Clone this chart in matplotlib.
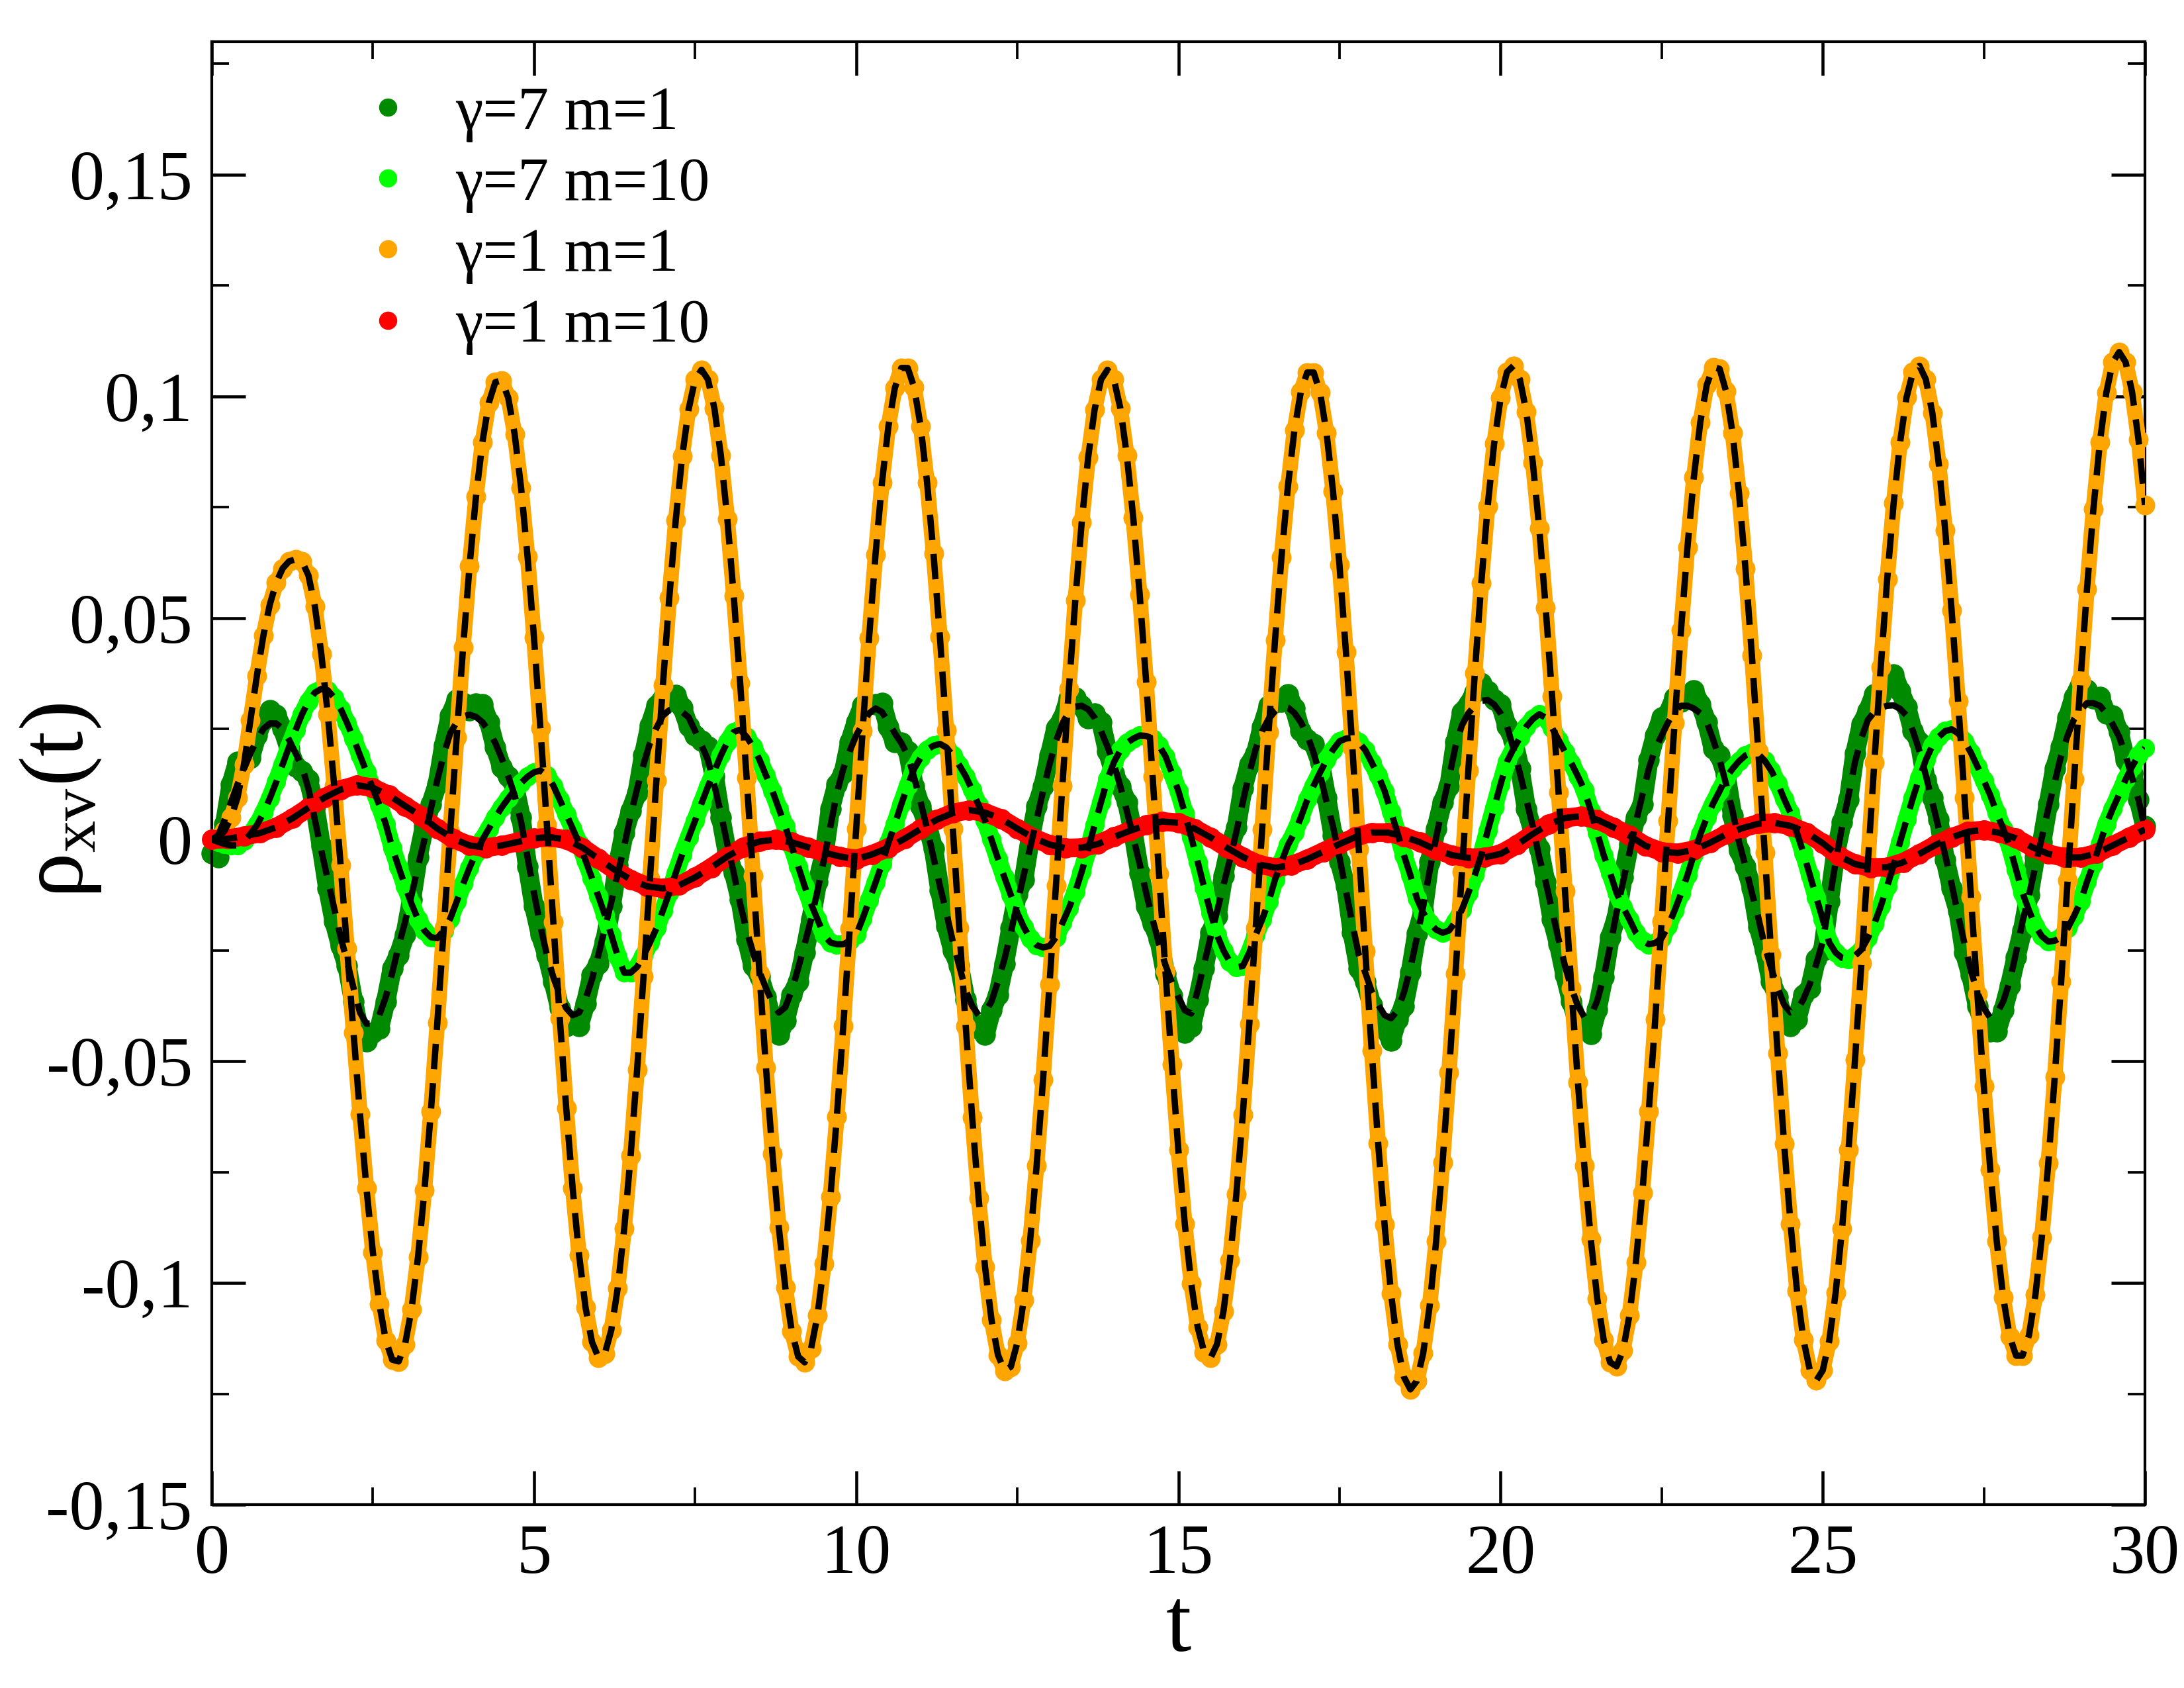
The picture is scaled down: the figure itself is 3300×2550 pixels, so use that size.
import numpy as np
import matplotlib
matplotlib.use('Agg')
import matplotlib.pyplot as plt
from matplotlib.ticker import MultipleLocator, FuncFormatter

plt.rcParams['font.family'] = ['Liberation Serif', 'DejaVu Serif']
plt.rcParams['mathtext.fontset'] = 'custom'
plt.rcParams['mathtext.rm'] = 'Liberation Serif'
plt.rcParams['mathtext.it'] = 'Liberation Serif:italic'

# sampling times (t) of the read-off curves
t_fine = np.round(np.arange(301) * 0.1, 1)
t_red = np.arange(121) * 0.25

# gamma=7 m=1 : simulation points
dg_dots = [
    -0.0030, -0.0040, 0.0035, 0.0125, 0.0175, 0.0180, 0.0185, 0.0235, 0.0270, 0.0292,
    0.0282, 0.0250, 0.0205, 0.0165, 0.0155, 0.0135, 0.0075, -0.0015, -0.0110, -0.0185,
    -0.0240, -0.0285, -0.0365, -0.0440, -0.0455, -0.0435, -0.0426, -0.0365, -0.0290, -0.0260,
    -0.0215, -0.0135, -0.0040, 0.0030, 0.0080, 0.0125, 0.0212, 0.0280, 0.0315, 0.0308,
    0.0292, 0.0307, 0.0305, 0.0265, 0.0208, 0.0163, 0.0143, 0.0120, 0.0050, -0.0060,
    -0.0150, -0.0215, -0.0260, -0.0320, -0.0380, -0.0420, -0.0416, -0.0420, -0.0370, -0.0305,
    -0.0280, -0.0230, -0.0150, -0.0057, 0.0015, 0.0065, 0.0105, 0.0190, 0.0258, 0.0302,
    0.0320, 0.0312, 0.0326, 0.0298, 0.0256, 0.0235, 0.0223, 0.0210, 0.0142, 0.0050,
    -0.0030, -0.0075, -0.0135, -0.0225, -0.0285, -0.0308, -0.0355, -0.0408, -0.0440, -0.0408,
    -0.0350, -0.0320, -0.0255, -0.0180, -0.0095, -0.0035, 0.0070, 0.0125, 0.0150, 0.0220,
    0.0265, 0.0302, 0.0305, 0.0306, 0.0308, 0.0255, 0.0220, 0.0218, 0.0200, 0.0120,
    0.0075, 0.0035, -0.0020, -0.0115, -0.0195, -0.0250, -0.0285, -0.0360, -0.0415, -0.0426,
    -0.0440, -0.0385, -0.0350, -0.0280, -0.0200, -0.0123, -0.0090, 0.0002, 0.0075, 0.0120,
    0.0190, 0.0252, 0.0272, 0.0318, 0.0320, 0.0302, 0.0274, 0.0285, 0.0265, 0.0200,
    0.0150, 0.0120, 0.0085, 0.0015, -0.0075, -0.0150, -0.0190, -0.0225, -0.0303, -0.0352,
    -0.0395, -0.0435, -0.0422, -0.0360, -0.0290, -0.0210, -0.0172, -0.0082, -0.0015, 0.0028,
    0.0115, 0.0170, 0.0195, 0.0255, 0.0302, 0.0310, 0.0312, 0.0328, 0.0296, 0.0245,
    0.0226, 0.0215, 0.0175, 0.0095, 0.0010, -0.0050, -0.0105, -0.0210, -0.0290, -0.0320,
    -0.0372, -0.0412, -0.0426, -0.0453, -0.0405, -0.0375, -0.0300, -0.0212, -0.0160, -0.0050,
    0.0025, 0.0085, 0.0120, 0.0220, 0.0288, 0.0305, 0.0332, 0.0353, 0.0335, 0.0315,
    0.0305, 0.0256, 0.0225, 0.0160, 0.0070, 0.0020, -0.0020, -0.0095, -0.0180, -0.0235,
    -0.0305, -0.0365, -0.0415, -0.0430, -0.0438, -0.0383, -0.0310, -0.0220, -0.0175, -0.0085,
    -0.0010, 0.0050, 0.0080, 0.0180, 0.0235, 0.0275, 0.0285, 0.0320, 0.0312, 0.0322,
    0.0336, 0.0305, 0.0265, 0.0205, 0.0190, 0.0145, 0.0055, -0.0025, -0.0060, -0.0110,
    -0.0196, -0.0250, -0.0320, -0.0355, -0.0412, -0.0420, -0.0405, -0.0350, -0.0335, -0.0270,
    -0.0250, -0.0140, -0.0030, 0.0040, 0.0090, 0.0195, 0.0260, 0.0290, 0.0328, 0.0328,
    0.0352, 0.0373, 0.0335, 0.0300, 0.0245, 0.0220, 0.0135, 0.0095, 0.0045, -0.0045,
    -0.0110, -0.0160, -0.0255, -0.0306, -0.0375, -0.0420, -0.0432, -0.0432, -0.0385, -0.0330,
    -0.0265, -0.0205, -0.0125, -0.0040, -0.0005, 0.0080, 0.0160, 0.0210, 0.0275, 0.0322,
    0.0352, 0.0338, 0.0318, 0.0322, 0.0285, 0.0280, 0.0242, 0.0180, 0.0150, 0.0090,
    0.0030,
]

# gamma=7 m=1 : dashed (theory) curve
dg_theory = [
    0.0000, 0.0010, 0.0045, 0.0085, 0.0125, 0.0160, 0.0195, 0.0225, 0.0250, 0.0262,
    0.0262, 0.0250, 0.0225, 0.0195, 0.0165, 0.0115, 0.0045, -0.0025, -0.0090, -0.0155,
    -0.0220, -0.0275, -0.0335, -0.0390, -0.0415, -0.0415, -0.0396, -0.0355, -0.0300, -0.0240,
    -0.0185, -0.0125, -0.0060, 0.0000, 0.0070, 0.0135, 0.0192, 0.0240, 0.0265, 0.0278,
    0.0282, 0.0277, 0.0265, 0.0245, 0.0218, 0.0183, 0.0143, 0.0100, 0.0040, -0.0040,
    -0.0120, -0.0195, -0.0260, -0.0310, -0.0350, -0.0380, -0.0396, -0.0390, -0.0360, -0.0315,
    -0.0260, -0.0200, -0.0140, -0.0077, -0.0015, 0.0055, 0.0115, 0.0170, 0.0218, 0.0252,
    0.0280, 0.0292, 0.0296, 0.0288, 0.0276, 0.0245, 0.0213, 0.0180, 0.0122, 0.0060,
    -0.0010, -0.0075, -0.0145, -0.0205, -0.0255, -0.0298, -0.0335, -0.0368, -0.0390, -0.0378,
    -0.0340, -0.0290, -0.0235, -0.0180, -0.0115, -0.0045, 0.0030, 0.0105, 0.0160, 0.0200,
    0.0235, 0.0262, 0.0285, 0.0296, 0.0288, 0.0265, 0.0240, 0.0218, 0.0190, 0.0140,
    0.0085, 0.0025, -0.0040, -0.0105, -0.0165, -0.0230, -0.0285, -0.0340, -0.0375, -0.0396,
    -0.0390, -0.0365, -0.0320, -0.0270, -0.0210, -0.0143, -0.0080, -0.0018, 0.0045, 0.0110,
    0.0170, 0.0222, 0.0262, 0.0288, 0.0300, 0.0302, 0.0294, 0.0275, 0.0245, 0.0210,
    0.0170, 0.0120, 0.0065, 0.0005, -0.0055, -0.0120, -0.0180, -0.0235, -0.0283, -0.0322,
    -0.0355, -0.0385, -0.0392, -0.0340, -0.0280, -0.0220, -0.0162, -0.0102, -0.0045, 0.0018,
    0.0085, 0.0150, 0.0205, 0.0245, 0.0272, 0.0290, 0.0302, 0.0298, 0.0286, 0.0265,
    0.0236, 0.0195, 0.0145, 0.0085, 0.0030, -0.0040, -0.0115, -0.0190, -0.0260, -0.0300,
    -0.0342, -0.0372, -0.0396, -0.0403, -0.0385, -0.0345, -0.0290, -0.0222, -0.0150, -0.0070,
    0.0005, 0.0075, 0.0140, 0.0210, 0.0258, 0.0285, 0.0302, 0.0313, 0.0315, 0.0305,
    0.0285, 0.0256, 0.0205, 0.0150, 0.0090, 0.0030, -0.0040, -0.0095, -0.0160, -0.0225,
    -0.0285, -0.0335, -0.0375, -0.0400, -0.0398, -0.0363, -0.0310, -0.0240, -0.0165, -0.0095,
    -0.0030, 0.0040, 0.0100, 0.0160, 0.0205, 0.0235, 0.0265, 0.0290, 0.0302, 0.0302,
    0.0296, 0.0285, 0.0265, 0.0225, 0.0180, 0.0125, 0.0065, -0.0005, -0.0060, -0.0120,
    -0.0176, -0.0240, -0.0290, -0.0335, -0.0372, -0.0390, -0.0385, -0.0360, -0.0325, -0.0280,
    -0.0230, -0.0140, -0.0050, 0.0030, 0.0100, 0.0175, 0.0230, 0.0270, 0.0288, 0.0298,
    0.0302, 0.0303, 0.0295, 0.0280, 0.0245, 0.0200, 0.0145, 0.0085, 0.0025, -0.0035,
    -0.0100, -0.0170, -0.0235, -0.0296, -0.0345, -0.0380, -0.0402, -0.0392, -0.0365, -0.0320,
    -0.0255, -0.0185, -0.0125, -0.0060, 0.0005, 0.0070, 0.0130, 0.0190, 0.0235, 0.0272,
    0.0292, 0.0308, 0.0308, 0.0302, 0.0285, 0.0260, 0.0232, 0.0190, 0.0140, 0.0090,
    0.0023,
]

# gamma=7 m=10
lg_vals = [
    0.0000, -0.0005, -0.0010, -0.0013, -0.0013, -0.0003, 0.0013, 0.0033, 0.0060, 0.0093,
    0.0130, 0.0170, 0.0210, 0.0247, 0.0283, 0.0312, 0.0332, 0.0340, 0.0337, 0.0320,
    0.0295, 0.0263, 0.0228, 0.0190, 0.0153, 0.0115, 0.0078, 0.0035, -0.0018, -0.0062,
    -0.0105, -0.0145, -0.0180, -0.0205, -0.0220, -0.0222, -0.0205, -0.0178, -0.0140, -0.0100,
    -0.0063, -0.0030, 0.0000, 0.0025, 0.0050, 0.0073, 0.0093, 0.0112, 0.0128, 0.0142,
    0.0152, 0.0156, 0.0145, 0.0122, 0.0090, 0.0058, 0.0025, -0.0008, -0.0047, -0.0087,
    -0.0128, -0.0170, -0.0215, -0.0263, -0.0300, -0.0300, -0.0287, -0.0262, -0.0232, -0.0200,
    -0.0160, -0.0120, -0.0075, -0.0033, 0.0005, 0.0043, 0.0082, 0.0120, 0.0155, 0.0190,
    0.0220, 0.0243, 0.0248, 0.0232, 0.0210, 0.0180, 0.0145, 0.0110, 0.0070, 0.0030,
    -0.0015, -0.0060, -0.0105, -0.0145, -0.0180, -0.0215, -0.0232, -0.0236, -0.0236, -0.0228,
    -0.0215, -0.0178, -0.0137, -0.0097, -0.0055, -0.0007, 0.0035, 0.0080, 0.0122, 0.0160,
    0.0185, 0.0203, 0.0212, 0.0216, 0.0208, 0.0190, 0.0168, 0.0143, 0.0112, 0.0078,
    0.0043, 0.0000, -0.0043, -0.0085, -0.0125, -0.0165, -0.0197, -0.0223, -0.0238, -0.0243,
    -0.0240, -0.0220, -0.0188, -0.0155, -0.0118, -0.0072, -0.0022, 0.0033, 0.0085, 0.0136,
    0.0175, 0.0202, 0.0218, 0.0228, 0.0235, 0.0234, 0.0228, 0.0212, 0.0188, 0.0150,
    0.0110, 0.0060, 0.0005, -0.0050, -0.0108, -0.0165, -0.0215, -0.0250, -0.0276, -0.0288,
    -0.0285, -0.0255, -0.0215, -0.0180, -0.0140, -0.0090, -0.0050, -0.0012, 0.0015, 0.0050,
    0.0090, 0.0122, 0.0152, 0.0180, 0.0203, 0.0222, 0.0228, 0.0230, 0.0220, 0.0202,
    0.0174, 0.0145, 0.0110, 0.0063, 0.0015, -0.0035, -0.0080, -0.0132, -0.0165, -0.0188,
    -0.0203, -0.0210, -0.0205, -0.0185, -0.0158, -0.0120, -0.0080, -0.0035, 0.0020, 0.0072,
    0.0125, 0.0176, 0.0205, 0.0230, 0.0255, 0.0272, 0.0283, 0.0275, 0.0252, 0.0225,
    0.0198, 0.0172, 0.0143, 0.0112, 0.0065, 0.0015, -0.0035, -0.0075, -0.0120, -0.0152,
    -0.0180, -0.0210, -0.0228, -0.0236, -0.0233, -0.0222, -0.0195, -0.0160, -0.0122, -0.0080,
    -0.0033, 0.0012, 0.0050, 0.0082, 0.0110, 0.0140, 0.0160, 0.0177, 0.0190, 0.0196,
    0.0193, 0.0178, 0.0156, 0.0127, 0.0092, 0.0060, 0.0015, -0.0030, -0.0080, -0.0130,
    -0.0180, -0.0232, -0.0255, -0.0267, -0.0270, -0.0262, -0.0248, -0.0222, -0.0190, -0.0150,
    -0.0105, -0.0057, -0.0005, 0.0045, 0.0095, 0.0140, 0.0180, 0.0212, 0.0232, 0.0245,
    0.0249, 0.0240, 0.0222, 0.0196, 0.0165, 0.0133, 0.0100, 0.0060, 0.0025, -0.0015,
    -0.0068, -0.0120, -0.0160, -0.0195, -0.0218, -0.0230, -0.0228, -0.0220, -0.0200, -0.0172,
    -0.0140, -0.0095, -0.0055, -0.0010, 0.0035, 0.0070, 0.0102, 0.0136, 0.0165, 0.0190,
    0.0207,
]

# gamma=1 m=1
or_vals = [
    0.0000, 0.0005, 0.0020, 0.0050, 0.0095, 0.0170, 0.0270, 0.0370, 0.0460, 0.0530,
    0.0580, 0.0612, 0.0628, 0.0632, 0.0628, 0.0596, 0.0526, 0.0419, 0.0283, 0.0121,
    -0.0058, -0.0246, -0.0436, -0.0619, -0.0786, -0.0931, -0.1047, -0.1129, -0.1173, -0.1177,
    -0.1138, -0.1059, -0.0942, -0.0791, -0.0613, -0.0413, -0.0200, 0.0017, 0.0231, 0.0434,
    0.0617, 0.0774, 0.0897, 0.0986, 0.1032, 0.1036, 0.0997, 0.0915, 0.0794, 0.0639,
    0.0456, 0.0251, 0.0034, -0.0186, -0.0402, -0.0605, -0.0786, -0.0937, -0.1055, -0.1133,
    -0.1168, -0.1159, -0.1106, -0.1011, -0.0878, -0.0713, -0.0519, -0.0309, -0.0088, 0.0134,
    0.0348, 0.0546, 0.0721, 0.0865, 0.0971, 0.1038, 0.1060, 0.1038, 0.0973, 0.0867,
    0.0724, 0.0550, 0.0353, 0.0139, -0.0082, -0.0303, -0.0514, -0.0708, -0.0875, -0.1010,
    -0.1109, -0.1166, -0.1179, -0.1148, -0.1073, -0.0957, -0.0806, -0.0625, -0.0420, -0.0201,
    0.0024, 0.0246, 0.0455, 0.0643, 0.0805, 0.0932, 0.1019, 0.1064, 0.1064, 0.1020,
    0.0933, 0.0806, 0.0645, 0.0457, 0.0247, 0.0025, -0.0200, -0.0420, -0.0626, -0.0809,
    -0.0964, -0.1083, -0.1162, -0.1198, -0.1189, -0.1135, -0.1039, -0.0904, -0.0736, -0.0541,
    -0.0327, -0.0104, 0.0122, 0.0339, 0.0539, 0.0716, 0.0862, 0.0970, 0.1038, 0.1060,
    0.1038, 0.0973, 0.0867, 0.0726, 0.0553, 0.0356, 0.0143, -0.0077, -0.0297, -0.0507,
    -0.0700, -0.0867, -0.1001, -0.1100, -0.1156, -0.1169, -0.1138, -0.1064, -0.0949, -0.0799,
    -0.0620, -0.0416, -0.0200, 0.0023, 0.0243, 0.0450, 0.0637, 0.0797, 0.0923, 0.1010,
    0.1054, 0.1054, 0.1008, 0.0917, 0.0786, 0.0620, 0.0424, 0.0208, -0.0021, -0.0251,
    -0.0476, -0.0684, -0.0869, -0.1023, -0.1139, -0.1212, -0.1240, -0.1221, -0.1158, -0.1051,
    -0.0906, -0.0728, -0.0525, -0.0303, -0.0073, 0.0156, 0.0375, 0.0578, 0.0752, 0.0893,
    0.0996, 0.1055, 0.1069, 0.1038, 0.0965, 0.0851, 0.0703, 0.0524, 0.0323, 0.0107,
    -0.0116, -0.0336, -0.0547, -0.0736, -0.0901, -0.1035, -0.1128, -0.1179, -0.1188, -0.1152,
    -0.1073, -0.0953, -0.0797, -0.0613, -0.0405, -0.0184, 0.0042, 0.0263, 0.0472, 0.0659,
    0.0818, 0.0942, 0.1026, 0.1066, 0.1062, 0.1011, 0.0917, 0.0782, 0.0612, 0.0416,
    0.0199, -0.0029, -0.0259, -0.0481, -0.0686, -0.0867, -0.1017, -0.1128, -0.1197, -0.1220,
    -0.1197, -0.1131, -0.1022, -0.0877, -0.0699, -0.0497, -0.0279, -0.0052, 0.0174, 0.0389,
    0.0588, 0.0759, 0.0896, 0.0998, 0.1055, 0.1069, 0.1038, 0.0963, 0.0848, 0.0698,
    0.0517, 0.0313, 0.0095, -0.0129, -0.0349, -0.0557, -0.0745, -0.0906, -0.1032, -0.1120,
    -0.1164, -0.1164, -0.1118, -0.1027, -0.0896, -0.0730, -0.0535, -0.0320, -0.0092, 0.0137,
    0.0359, 0.0565, 0.0746, 0.0896, 0.1008, 0.1077, 0.1100, 0.1077, 0.1010, 0.0902,
    0.0755,
]

# gamma=1 m=10 (every 0.25 in t)
red_vals = [
    0.0000, 0.0002, 0.0008, 0.0015,
    0.0028, 0.0048, 0.0072, 0.0095,
    0.0113, 0.0123, 0.0117, 0.0100,
    0.0076, 0.0053, 0.0025, 0.0002,
    -0.0013, -0.0018, -0.0013, -0.0005,
    0.0003, 0.0006, 0.0000, -0.0018,
    -0.0043, -0.0068, -0.0090, -0.0105,
    -0.0110, -0.0103, -0.0085, -0.0063,
    -0.0038, -0.0017, -0.0004, 0.0000,
    -0.0006, -0.0017, -0.0029, -0.0038,
    -0.0044, -0.0033, -0.0018, 0.0002,
    0.0024, 0.0045, 0.0060, 0.0067,
    0.0061, 0.0047, 0.0025, 0.0004,
    -0.0011, -0.0019, -0.0018, -0.0010,
    0.0006, 0.0020, 0.0033, 0.0041,
    0.0038, 0.0025, 0.0005, -0.0018,
    -0.0039, -0.0056, -0.0063, -0.0058,
    -0.0044, -0.0027, -0.0010, 0.0006,
    0.0016, 0.0016, 0.0007, -0.0006,
    -0.0023, -0.0035, -0.0041, -0.0040,
    -0.0032, -0.0012, 0.0013, 0.0035,
    0.0049, 0.0053, 0.0045, 0.0028,
    0.0009, -0.0014, -0.0027, -0.0030,
    -0.0023, -0.0007, 0.0012, 0.0026,
    0.0036, 0.0038, 0.0031, 0.0016,
    -0.0008, -0.0037, -0.0055, -0.0063,
    -0.0062, -0.0051, -0.0032, -0.0012,
    0.0005, 0.0018, 0.0022, 0.0015,
    0.0003, -0.0017, -0.0032, -0.0040,
    -0.0040, -0.0031, -0.0013, 0.0005,
    0.0023,
]

labels = ['\u03b3=7 m=1', '\u03b3=7 m=10', '\u03b3=1 m=1', '\u03b3=1 m=10']
colors = ['#008a00', '#00ff00', '#ffa500', '#ff0000']
band_widths = [7.0, 6.4, 5.6, 6.8]
marker_sizes = [7.8, 7.0, 7.2, 7.4]

series = [
    (t_fine, dg_dots, dg_theory),
    (t_fine, lg_vals, lg_vals),
    (t_fine, or_vals, or_vals),
    (t_red, red_vals, red_vals),
]

fig = plt.figure(figsize=(11, 8.5), dpi=300)
ax = fig.add_axes([320 / 3300, 1 - 2273 / 2550, 2921 / 3300, 2210 / 2550])

for i, ((tt, yy, th), col) in enumerate(zip(series, colors)):
    ax.plot(tt, yy, '-', color=col, lw=band_widths[i], solid_capstyle='round',
            solid_joinstyle='round', zorder=2 + i)
    ax.plot(tt, yy, 'o', color=col, ms=marker_sizes[i], mew=0, zorder=2 + i,
            clip_on=False)

for (tt, yy, th) in series:
    ax.plot(tt, th, color='black', lw=2.3, dashes=(4.0, 2.2), zorder=10)

# legend entries (same marker style as the data points)
handles = [plt.Line2D([], [], ls='none', marker='o', ms=6.6, mew=0, color=c,
                      label=l) for c, l in zip(colors, labels)]

ax.set_xlim(0, 30)
ax.set_ylim(-0.15, 0.18)

ax.xaxis.set_major_locator(MultipleLocator(5))
ax.xaxis.set_minor_locator(MultipleLocator(2.5))
ax.yaxis.set_major_locator(MultipleLocator(0.05))
ax.yaxis.set_minor_locator(MultipleLocator(0.025))


def yfmt(v, pos):
    if abs(v) < 1e-9:
        return '0'
    s = f"{v:.2f}".rstrip('0').rstrip('.')
    return s.replace('.', ',')


ax.yaxis.set_major_formatter(FuncFormatter(yfmt))
ax.xaxis.set_major_formatter(FuncFormatter(lambda v, p: f"{int(round(v))}"))

ax.tick_params(which='both', direction='in', top=True, right=True,
               labelsize=25.5, pad=7)
ax.tick_params(which='major', length=12.2, width=1.1)
ax.tick_params(which='minor', length=6.2, width=0.9)
for sp in ax.spines.values():
    sp.set_linewidth(1.0)

ax.set_xlabel('t', fontsize=33, labelpad=0)
ax.set_ylabel('\u03c1$_{\\mathrm{xv}}$(t)', fontsize=33)
ax.yaxis.set_label_coords(-0.056, 0.481)

leg = ax.legend(handles=handles, loc='upper left',
                bbox_to_anchor=((539 - 320) / 2921, 0.9700),
                frameon=False, fontsize=22.5, handlelength=1.0,
                handletextpad=0.59, labelspacing=0.23, borderpad=0,
                borderaxespad=0, numpoints=1, markerscale=1.0)

fig.savefig('out.png', dpi=300)
